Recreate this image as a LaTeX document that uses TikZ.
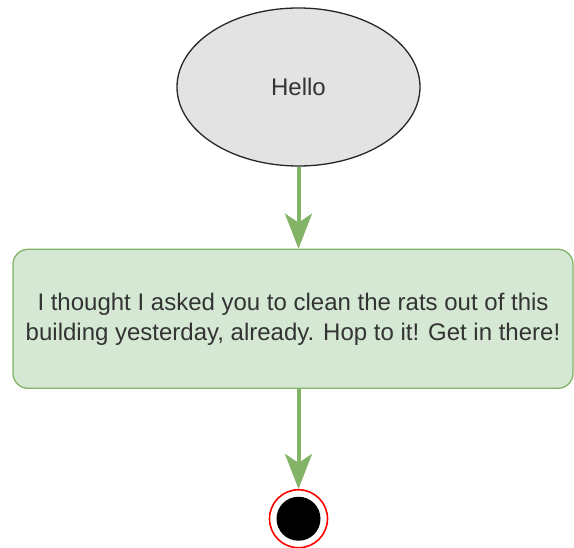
\documentclass[tikz,border=0pt]{standalone}
\usepackage{fontspec}
\setmainfont{Liberation Sans}
\usepackage{tikz}
\usetikzlibrary{arrows.meta,positioning,calc,shapes.geometric}
\definecolor{flowGreen}{HTML}{82B366}
\definecolor{softGreen}{HTML}{D5E8D4}
\definecolor{softGray}{HTML}{E3E3E3}
\definecolor{endRed}{HTML}{FF0000}
\definecolor{textGray}{HTML}{333333}

\begin{document}
\begin{tikzpicture}[
  startnode/.style={ellipse,draw=black!85,fill=softGray,line width=1.3pt,minimum width=243pt,minimum height=158pt,inner sep=0pt,font=\fontsize{24}{30}\selectfont,text=textGray},
  msgbox/.style={rounded corners=15pt,draw=flowGreen,fill=softGreen,line width=1.3pt,minimum width=560pt,minimum height=139pt,align=center,font=\fontsize{24}{30}\selectfont,text=textGray},
  endstate/.style={circle,draw=endRed,line width=1.6pt,minimum size=58pt,inner sep=0pt,path picture={\fill[black] (path picture bounding box.center) circle (22pt);}},
  arrow/.style={-{Stealth[length=35pt,width=27pt,inset=9pt]},draw=flowGreen,line width=4pt}
]
\useasboundingbox (0,0) rectangle (574pt,-548pt);
\node[startnode] (hello) at (298.5pt,-87pt) {Hello};
\node[msgbox,below=82pt of hello,xshift=-5.5pt] (msg) {I thought I asked you to clean the rats out of this\\building yesterday, already. Hop to it! Get in there!};
\node[endstate,below=100pt of msg,xshift=5.5pt] (end) {};
\draw[arrow] (hello) -- (hello |- msg.north);
\draw[arrow] (msg.south -| end) -- (end);
\end{tikzpicture}
\end{document}
